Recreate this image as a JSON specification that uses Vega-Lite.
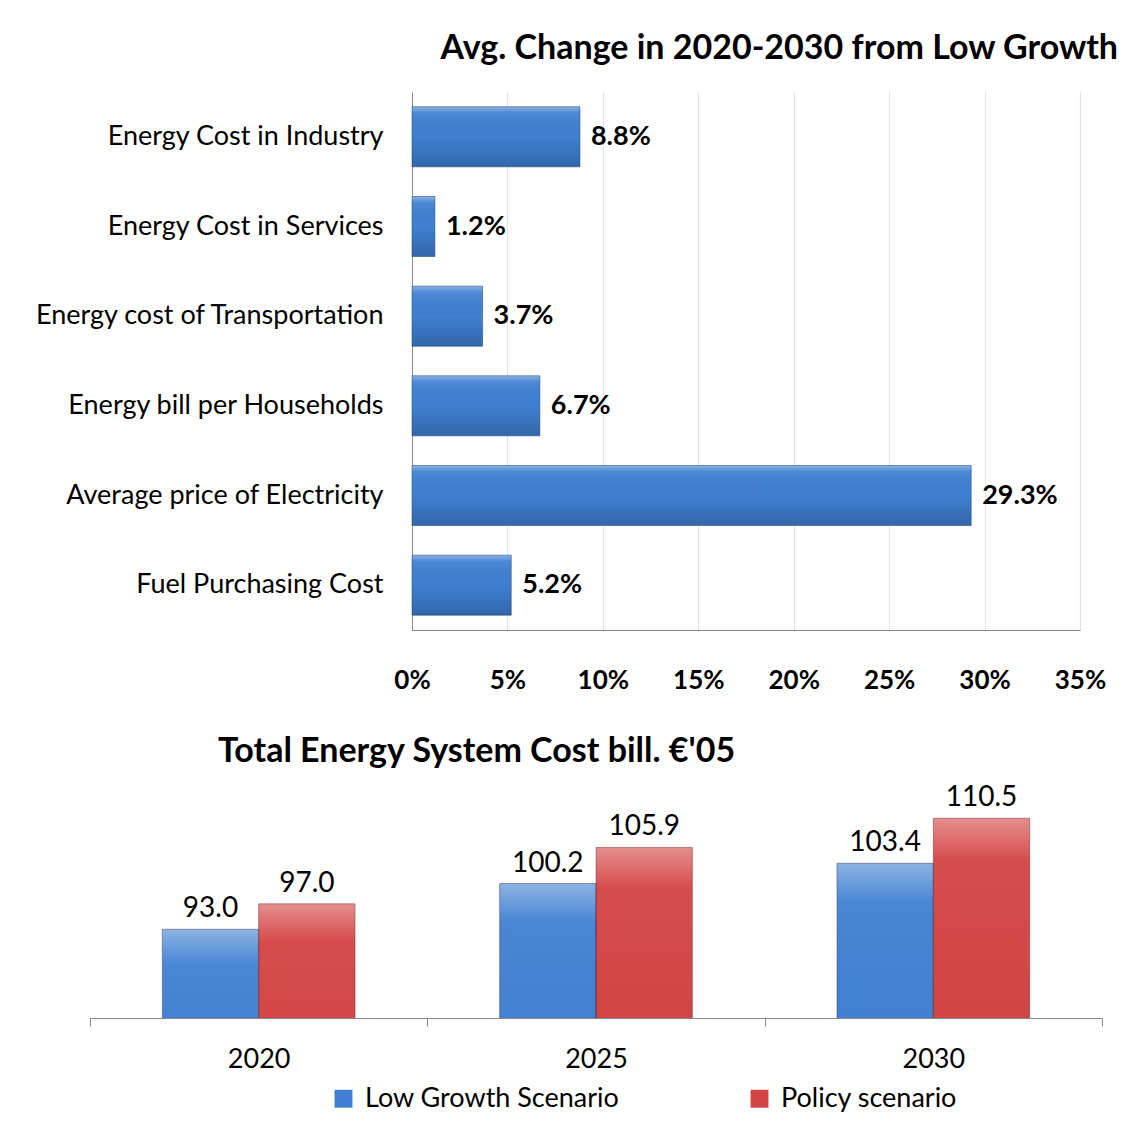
{
  "$schema": "https://vega.github.io/schema/vega-lite/v6.json",
  "background": "white",
  "padding": {"left": 33, "top": 32, "right": 5, "bottom": 5},
  "config": {"view": {"stroke": null}, "font": "Lato"},
  "spacing": 42,
  "vconcat": [
    {
      "width": 990,
      "height": 538,
      "title": {"text": "Avg. Change in 2020-2030 from Low Growth", "anchor": "end", "frame": "group", "fontSize": 34, "font": "Lato", "fontWeight": "bold", "color": "black", "dx": 38, "offset": 26},
      "data": {"values": [
        {"cat": "Energy Cost in  Industry", "v": 0.088},
        {"cat": "Energy Cost in  Services", "v": 0.012},
        {"cat": "Energy cost of Transportation", "v": 0.037},
        {"cat": "Energy bill per Households", "v": 0.067},
        {"cat": "Average price of Electricity", "v": 0.293},
        {"cat": "Fuel Purchasing Cost", "v": 0.052}
      ]},
      "encoding": {
        "y": {"field": "cat", "type": "nominal", "sort": null, "scale": {"paddingInner": 0.33, "paddingOuter": 0.165},
          "axis": {"title": null, "offset": -322, "labelFontSize": 27, "labelFont": "Lato", "labelColor": "black", "labelPadding": 29, "ticks": false, "domainColor": "#888", "labelLimit": 0}},
        "x": {"field": "v", "type": "quantitative", "scale": {"domain": [0, 0.35], "range": [322, 990]},
          "axis": {"title": null, "format": ".0%", "values": [0, 0.05, 0.1, 0.15, 0.2, 0.25, 0.3, 0.35], "labelFlush": false, "labelFontSize": 26, "labelFontWeight": "bold", "labelColor": "black", "labelPadding": 37, "ticks": false, "grid": true, "gridColor": "#dce3f0", "domainColor": "#888"}}
      },
      "layer": [
        {"mark": {"type": "bar", "color": "#3f80d2"}},
        {"mark": {"type": "bar", "stroke": "rgba(20,50,100,0.45)", "strokeWidth": 1,
          "color": {"gradient": "linear", "x1": 0, "y1": 0, "x2": 0, "y2": 1, "stops": [{"offset": 0, "color": "rgba(255,255,255,0.4)"}, {"offset": 0.1, "color": "rgba(255,255,255,0.08)"}, {"offset": 0.5, "color": "rgba(0,0,0,0)"}, {"offset": 1, "color": "rgba(0,0,0,0.2)"}]}}},
        {"mark": {"type": "text", "align": "left", "dx": 11, "fontSize": 27, "fontWeight": "bold", "font": "Lato", "color": "black"},
          "encoding": {"text": {"field": "v", "type": "quantitative", "format": ".1%"}}}
      ]
    },
    {
      "width": 1012,
      "height": 241,
      "title": {"text": "Total Energy System Cost bill. €'05", "anchor": "start", "frame": "group", "fontSize": 34, "font": "Lato", "fontWeight": "bold", "color": "black", "dx": 128, "offset": 8},
      "data": {"values": [
        {"year": "2020", "series": "Low Growth Scenario", "v": 93.0},
        {"year": "2020", "series": "Policy scenario", "v": 97.0},
        {"year": "2025", "series": "Low Growth Scenario", "v": 100.2},
        {"year": "2025", "series": "Policy scenario", "v": 105.9},
        {"year": "2030", "series": "Low Growth Scenario", "v": 103.4},
        {"year": "2030", "series": "Policy scenario", "v": 110.5}
      ]},
      "encoding": {
        "x": {"field": "year", "type": "nominal", "scale": {"paddingInner": 0, "paddingOuter": 0},
          "axis": {"title": null, "labelAngle": 0, "labelFontSize": 27, "labelColor": "black", "labelPadding": 20, "tickBand": "extent", "tickSize": 8, "tickColor": "#888", "domainColor": "#888"}},
        "xOffset": {"field": "series", "type": "nominal", "scale": {"paddingInner": 0, "paddingOuter": 0.75}},
        "y": {"field": "v", "type": "quantitative", "scale": {"domain": [79, 117], "zero": false}, "axis": null}
      },
      "layer": [
        {"mark": {"type": "bar", "clip": true},
          "encoding": {"color": {"field": "series", "type": "nominal", "scale": {"range": ["#3f80d2", "#d44343"]},
            "legend": {"title": null, "orient": "none", "legendX": 240, "legendY": 993, "direction": "horizontal", "symbolType": "square", "symbolSize": 320, "symbolStrokeWidth": 0, "labelFontSize": 27, "labelColor": "black", "labelLimit": 0, "columnPadding": 126, "labelOffset": 8}}}},
        {"mark": {"type": "bar", "clip": true, "stroke": "rgba(60,20,20,0.35)", "strokeWidth": 1,
          "color": {"gradient": "linear", "x1": 0, "y1": 0, "x2": 0, "y2": 1, "stops": [{"offset": 0, "color": "rgba(255,255,255,0.4)"}, {"offset": 0.06, "color": "rgba(255,255,255,0.05)"}, {"offset": 0.5, "color": "rgba(0,0,0,0)"}, {"offset": 1, "color": "rgba(0,0,0,0.18)"}]}}},
        {"mark": {"type": "text", "baseline": "bottom", "dy": -6, "fontSize": 28, "color": "black"},
          "encoding": {"text": {"field": "v", "type": "quantitative", "format": ".1f"}}}
      ]
    }
  ]
}
